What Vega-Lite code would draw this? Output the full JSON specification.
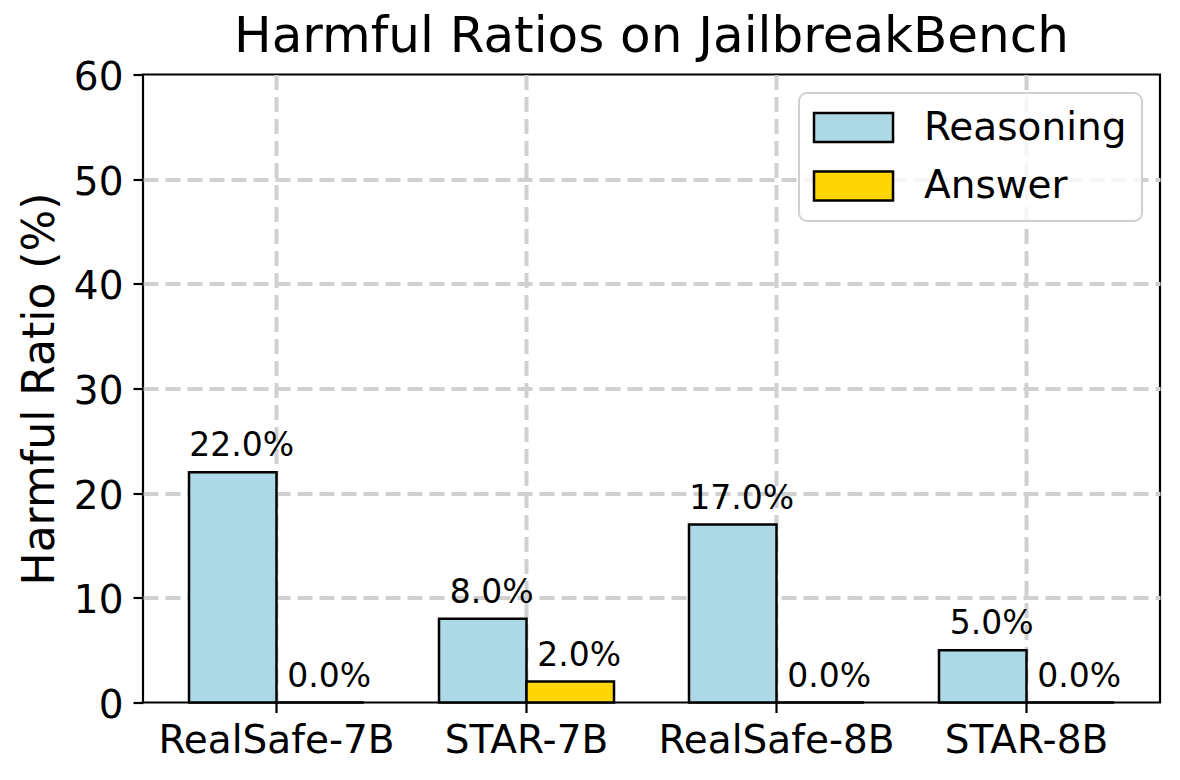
{
  "$schema": "https://vega.github.io/schema/vega-lite/v6.json",
  "width": 1017,
  "height": 628,
  "autosize": {"type": "none"},
  "padding": {"left": 143, "top": 74.5, "right": 20, "bottom": 77.5},
  "background": "white",
  "title": {
    "text": "Harmful Ratios on JailbreakBench",
    "fontSize": 50,
    "font": "DejaVu Sans",
    "fontWeight": "normal",
    "color": "black",
    "baseline": "bottom",
    "frame": "group",
    "offset": 7,
    "dy": 60,
    "anchor": "middle"
  },
  "data": {
    "values": [
      {"model": "RealSafe-7B", "type": "Reasoning", "value": 22, "label": "22.0%"},
      {"model": "RealSafe-7B", "type": "Answer", "value": 0, "label": "0.0%"},
      {"model": "STAR-7B", "type": "Reasoning", "value": 8, "label": "8.0%"},
      {"model": "STAR-7B", "type": "Answer", "value": 2, "label": "2.0%"},
      {"model": "RealSafe-8B", "type": "Reasoning", "value": 17, "label": "17.0%"},
      {"model": "RealSafe-8B", "type": "Answer", "value": 0, "label": "0.0%"},
      {"model": "STAR-8B", "type": "Reasoning", "value": 5, "label": "5.0%"},
      {"model": "STAR-8B", "type": "Answer", "value": 0, "label": "0.0%"}
    ]
  },
  "encoding": {
    "x": {
      "field": "model",
      "type": "nominal",
      "sort": ["RealSafe-7B", "STAR-7B", "RealSafe-8B", "STAR-8B"],
      "scale": {"paddingInner": 0.3, "paddingOuter": 0.184},
      "axis": {
        "title": null,
        "labelAngle": 0,
        "labelFontSize": 39,
        "labelColor": "black",
        "labelBaseline": "alphabetic",
        "labelPadding": 40,
        "labelLimit": 0,
        "tickSize": 10,
        "tickWidth": 2.2,
        "tickColor": "black",
        "bandPosition": 0.5,
        "domain": false,
        "grid": true,
        "gridDash": [15, 7],
        "gridColor": "#d0d0d0",
        "gridWidth": 4
      }
    },
    "xOffset": {
      "field": "type",
      "type": "nominal",
      "sort": ["Reasoning", "Answer"],
      "scale": {"paddingInner": 0, "paddingOuter": 0}
    },
    "y": {
      "field": "value",
      "type": "quantitative",
      "scale": {"domain": [0, 60], "nice": false},
      "axis": {
        "values": [0, 10, 20, 30, 40, 50, 60],
        "title": "Harmful Ratio (%)",
        "titleFontSize": 44,
        "titleFontWeight": "normal",
        "titleColor": "black",
        "titleBaseline": "alphabetic",
        "titlePadding": 20,
        "labelFontSize": 39,
        "labelColor": "black",
        "labelPadding": 10,
        "labelOffset": 3,
        "tickSize": 10,
        "tickWidth": 2.2,
        "tickColor": "black",
        "domain": false,
        "grid": true,
        "gridDash": [15, 7],
        "gridColor": "#d0d0d0",
        "gridWidth": 4,
        "gridOpacity": {"condition": {"test": "datum.value === 0 || datum.value === 60", "value": 0}, "value": 1}
      }
    }
  },
  "layer": [
    {
      "mark": {"type": "bar", "stroke": "black", "strokeWidth": 2.5, "opacity": 1},
      "encoding": {
        "color": {
          "field": "type",
          "type": "nominal",
          "sort": ["Reasoning", "Answer"],
          "scale": {"domain": ["Reasoning", "Answer"], "range": ["#ADD8E6", "#FFD700"]},
          "legend": {
            "orient": "none",
            "legendX": 656,
            "legendY": 18.5,
            "title": null,
            "symbolType": "M-1,-1H4.45V1H-1Z",
            "symbolSize": 841,
            "symbolStrokeColor": "black",
            "symbolStrokeWidth": 2.5,
            "symbolOpacity": 1,
            "symbolOffset": -5,
            "labelFontSize": 39,
            "labelColor": "black",
            "labelOffset": 76,
            "labelLimit": 0,
            "padding": 15,
            "rowPadding": 18.5,
            "fillColor": "rgba(255,255,255,0.8)",
            "strokeColor": "#d0d0d0",
            "cornerRadius": 8,
            "encode": {"legend": {"update": {"strokeWidth": {"value": 2}}}}
          }
        }
      }
    },
    {
      "mark": {
        "type": "text",
        "align": "center",
        "baseline": "alphabetic",
        "dx": 9,
        "dy": -16,
        "fontSize": 33,
        "color": "black"
      },
      "encoding": {
        "text": {"field": "label", "type": "nominal"}
      }
    }
  ],
  "config": {
    "font": "DejaVu Sans",
    "view": {"stroke": "black", "strokeWidth": 2.2}
  }
}
